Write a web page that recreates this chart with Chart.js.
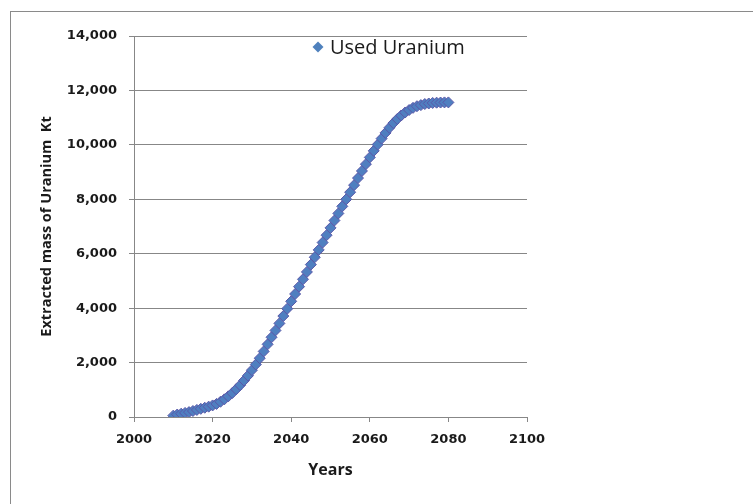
<!DOCTYPE html>
<html>
<head>
<meta charset="utf-8">
<script src="https://cdn.jsdelivr.net/npm/chart.js@4.4.1/dist/chart.umd.min.js"></script>
<style>
  html, body { margin: 0; padding: 0; background: #fff; }
  #wrap { position: relative; width: 753px; height: 504px; overflow: hidden; }
  #frame { position: absolute; left: 10px; top: 11px; width: 760px; height: 510px;
           border-top: 1px solid #8a8a8a; border-left: 1px solid #8a8a8a; box-sizing: border-box; }
  canvas { position: absolute; left: 0; top: 0; }
</style>
</head>
<body>
<div id="wrap">
  <div id="frame"></div>
  <canvas id="c" width="753" height="504"></canvas>
</div>
<script>
// ---- data ----
const seriesName = "Used Uranium";
const years = [
  2010,2011,2012,2013,2014,2015,2016,2017,2018,2019,
  2020,2021,2022,2023,2024,2025,2026,2027,2028,2029,
  2030,2031,2032,2033,2034,2035,2036,2037,2038,2039,
  2040,2041,2042,2043,2044,2045,2046,2047,2048,2049,
  2050,2051,2052,2053,2054,2055,2056,2057,2058,2059,
  2060,2061,2062,2063,2064,2065,2066,2067,2068,2069,
  2070,2071,2072,2073,2074,2075,2076,2077,2078,2079,
  2080
];
const usedUranium = [
  50,90,120,150,180,220,260,300,340,380,
  425,480,560,650,760,880,1020,1170,1340,1520,
  1720,1930,2160,2410,2670,2930,3180,3440,3710,3980,
  4250,4520,4790,5060,5330,5600,5870,6140,6410,6680,
  6950,7220,7480,7740,8000,8260,8520,8780,9040,9290,
  9540,9780,10010,10230,10440,10630,10800,10950,11080,11190,
  11280,11360,11420,11460,11500,11520,11540,11550,11555,11560,
  11560
];
const xTicks = [2000, 2020, 2040, 2060, 2080, 2100];
const yTicks = [0, 2000, 4000, 6000, 8000, 10000, 12000, 14000];
const xTitle = "Years";
const yTitle = "Extracted mass of Uranium  Kt";

const points = years.map((y, i) => ({ x: y, y: usedUranium[i] }));

const gridColor = "#878787";
const textColor = "#1a1a1a";

const legendInside = {
  id: "legendInside",
  afterDraw(chart) {
    const ctx = chart.ctx;
    const ca = chart.chartArea;
    const ds = chart.data.datasets[0];
    const mx = ca.left + 184, my = ca.top + 11;
    ctx.save();
    ctx.fillStyle = "#4F81BD";
    ctx.beginPath();
    ctx.moveTo(mx, my - 5.5);
    ctx.lineTo(mx + 5.5, my);
    ctx.lineTo(mx, my + 5.5);
    ctx.lineTo(mx - 5.5, my);
    ctx.closePath();
    ctx.fill();
    ctx.fillStyle = textColor;
    ctx.font = "20px 'Open Sans'";
    ctx.textBaseline = "middle";
    ctx.textAlign = "left";
    ctx.fillText(ds.label, mx + 12, my + 1);
    ctx.restore();
  }
};

new Chart(document.getElementById("c"), {
  type: "scatter",
  data: {
    datasets: [{
      label: seriesName,
      data: points,
      showLine: false,
      pointStyle: "rectRot",
      pointRadius: 5.5,
      pointBackgroundColor: "#4F7FC0",
      pointBorderColor: "#5A58A8",
      pointBorderWidth: 1
    }]
  },
  options: {
    responsive: false,
    animation: false,
    devicePixelRatio: 1,
    layout: { padding: { left: 0, top: 36, right: 226, bottom: 0 } },
    plugins: { legend: { display: false }, tooltip: { enabled: false } },
    scales: {
      x: {
        type: "linear",
        min: 2000, max: 2100,
        afterBuildTicks: (s) => { s.ticks = xTicks.map(v => ({ value: v })); },
        afterFit: (s) => { s.height = 87; },
        border: { display: true, color: gridColor, width: 1 },
        grid: { drawOnChartArea: false, drawTicks: true, tickLength: 5, color: gridColor },
        ticks: {
          color: textColor, padding: 10, maxRotation: 0,
          font: { family: "'DejaVu Sans'", size: 13, weight: "bold" },
          callback: (v) => String(v)
        },
        title: {
          display: true, text: xTitle, color: textColor,
          font: { family: "'Open Sans'", size: 16, weight: "bold" },
          padding: { top: 0, bottom: 24 }
        }
      },
      y: {
        type: "linear",
        min: 0, max: 14000,
        afterBuildTicks: (s) => { s.ticks = yTicks.map(v => ({ value: v })); },
        afterFit: (s) => { s.width = 134; },
        border: { display: true, color: gridColor, width: 1 },
        grid: { drawOnChartArea: true, drawTicks: true, tickLength: 5, color: gridColor },
        ticks: {
          color: textColor, padding: 12,
          font: { family: "'DejaVu Sans'", size: 13, weight: "bold" },
          callback: (v) => v.toLocaleString("en-US")
        },
        title: {
          display: true, text: yTitle, color: textColor,
          font: { family: "'Open Sans'", size: 14.5, weight: "bold" },
          padding: { top: 38, bottom: 0 }
        }
      }
    }
  },
  plugins: [legendInside]
});
</script>
</body>
</html>
